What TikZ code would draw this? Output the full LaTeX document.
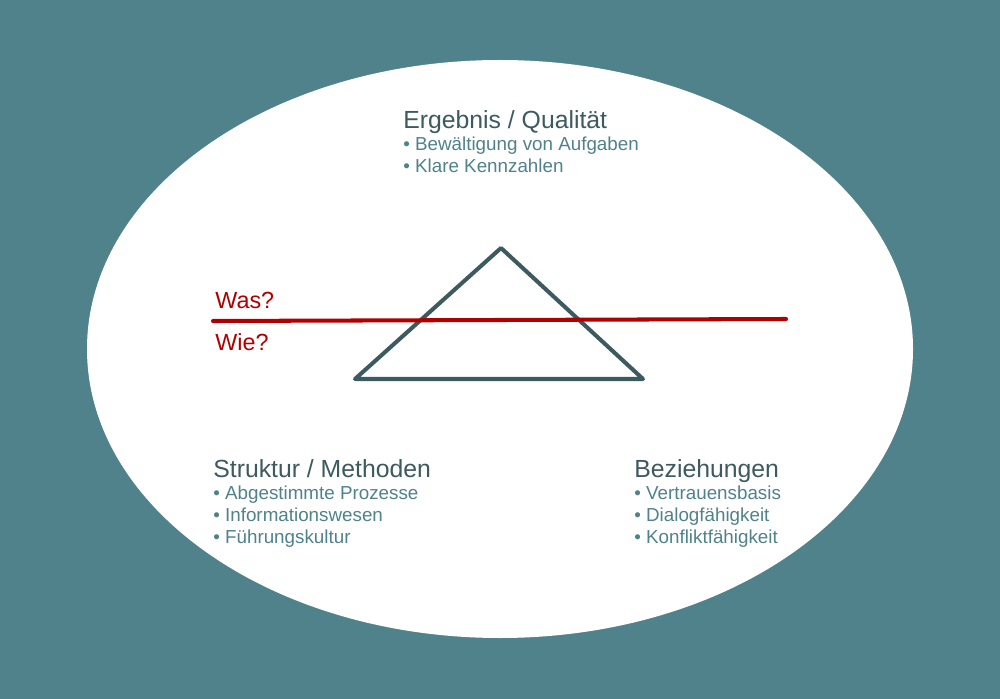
\documentclass[tikz,border=0pt]{standalone}
\usepackage{fontspec}
\setmainfont{Liberation Sans}
\usepackage{xcolor}
\definecolor{petrol}{HTML}{4F828B}
\definecolor{slate}{HTML}{3D5A60}
\definecolor{signal}{HTML}{B00000}

\begin{document}
\begin{tikzpicture}[x=0.02cm,y=-0.02cm,
    head/.style={anchor=base west,inner sep=0,text=slate,font=\fontsize{14.1}{17}\selectfont},
    item/.style={anchor=base west,inner sep=0,text=petrol,font=\fontsize{10.7}{13}\selectfont},
    ask/.style={anchor=base west,inner sep=0,text=signal,font=\fontsize{13.3}{16}\selectfont},
    tri/.style={draw=slate,line width=2.3pt,line join=round},
    cut/.style={draw=signal,line width=2.3pt,line cap=round},]
\fill[petrol] (0,0) rectangle (1000,699);
\useasboundingbox (0,0) rectangle (1000,699);
\fill[white] (500,349) ellipse [x radius=413,y radius=289];
% triangle
\coordinate (top) at (501,248);
\coordinate (bl) at (355,379);
\coordinate (br) at (643,379);
\draw[tri] (top) -- (br) -- (bl) -- cycle;
% Was / Wie
\coordinate (cutl) at (213,321);
\coordinate (cutr) at (786,319);
\draw[cut] (cutl) -- (cutr);
\node[ask] (was) at (215,308) {Was?};
\node[ask] (wie) at (215,350) {Wie?};
% Ergebnis
\node[head] (erg) at (403,129) {Ergebnis / Qualität};
\node[item] (erg1) at (403,151) {• Bewältigung von Aufgaben};
\node[item] (erg2) at (403,173) {• Klare Kennzahlen};
% Struktur
\node[head] (str) at (213,477) {Struktur / Methoden};
\node[item] (str1) at (213,499) {• Abgestimmte Prozesse};
\node[item] (str2) at (213,521) {• Informationswesen};
\node[item] (str3) at (213,543) {• Führungskultur};
% Beziehungen
\node[head] (bez) at (634,477) {Beziehungen};
\node[item] (bez1) at (634,499) {• Vertrauensbasis};
\node[item] (bez2) at (634,521) {• Dialogfähigkeit};
\node[item] (bez3) at (634,543) {• Konfliktfähigkeit};
\end{tikzpicture}
\end{document}
